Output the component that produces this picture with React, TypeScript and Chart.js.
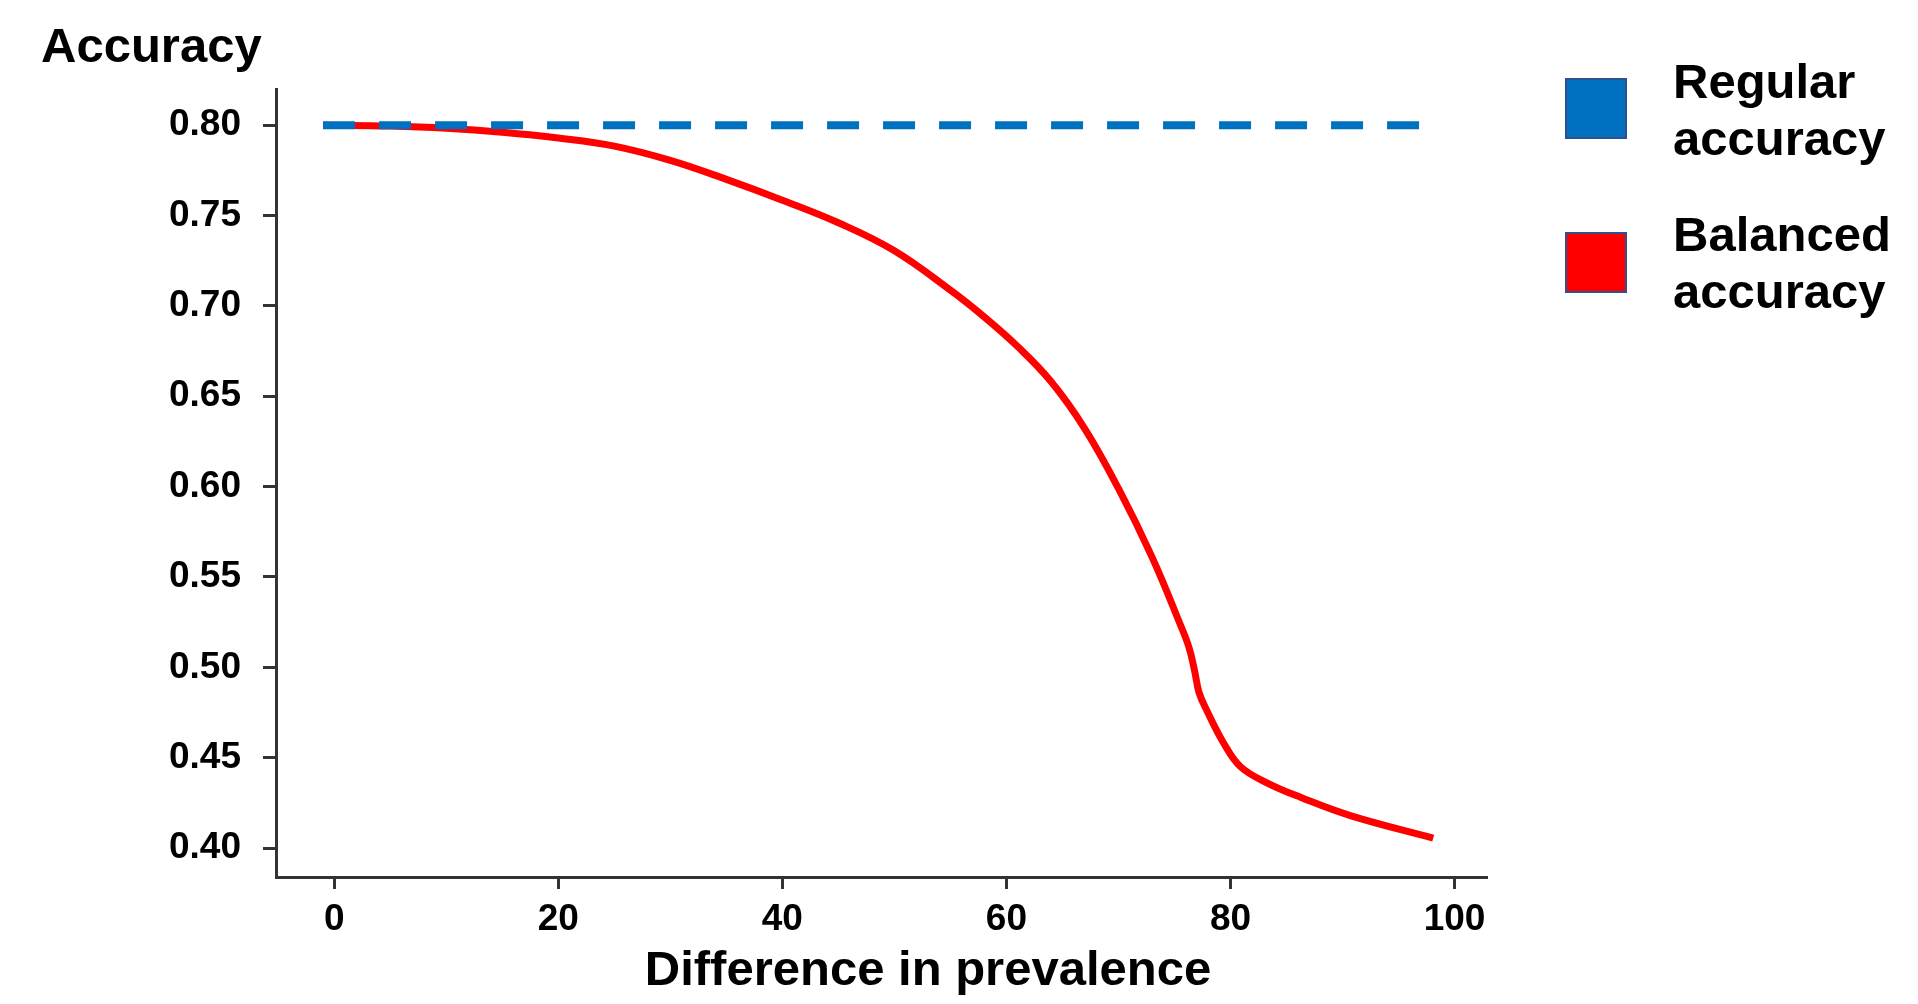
import React, { useEffect, useRef } from "react";
import { Chart, registerables } from "chart.js";

Chart.register(...registerables);

// ---- data ----
const xTickValues = [0, 20, 40, 60, 80, 100];
const yTickValues = [0.4, 0.45, 0.5, 0.55, 0.6, 0.65, 0.7, 0.75, 0.8];

const regularX = [-1, 97.5];
const regularY = [0.8, 0.8];

const balancedX = [-1, 5, 10, 15, 20, 25, 30, 35, 40, 45, 50, 55, 58, 61, 64, 67, 70, 73, 75.5, 76.3, 76.8, 77.2, 77.9, 79.4, 80.9, 83.3, 86.3, 90.7, 98.1];
const balancedY = [0.8, 0.7995, 0.7983, 0.7961, 0.7929, 0.7884, 0.7805, 0.77, 0.7585, 0.746, 0.7305, 0.7087, 0.694, 0.6775, 0.658, 0.632, 0.599, 0.561, 0.524, 0.511, 0.498, 0.486, 0.476, 0.458, 0.445, 0.436, 0.428, 0.418, 0.4055];

const seriesLabels = ["Regular accuracy", "Balanced accuracy"];
const seriesColors = ["#0070C0", "#FF0000"];
const yAxisTitle = "Accuracy";
const xAxisTitle = "Difference in prevalence";

const FONT = '"Liberation Sans", Arial, sans-serif';

const overlayPlugin = {
  id: "overlayTexts",
  afterDraw(chart: any) {
    const ctx = chart.ctx as CanvasRenderingContext2D;
    const area = chart.chartArea;
    ctx.save();
    ctx.fillStyle = "#000";
    ctx.textBaseline = "alphabetic";

    // y axis title (top-left)
    ctx.font = `bold 49px ${FONT}`;
    ctx.textAlign = "left";
    ctx.fillText(yAxisTitle, area.left - 235, 62);

    // x axis title
    ctx.font = `bold 49px ${FONT}`;
    ctx.textAlign = "center";
    ctx.fillText(xAxisTitle, area.left + 652, area.bottom + 108);

    // legend
    const ds = chart.data.datasets;
    ds.forEach((d: any, i: number) => {
      const sx = area.right + 79;
      const sy = 79 + i * 154;
      ctx.fillStyle = d.borderColor;
      ctx.fillRect(sx, sy, 60, 59);
      ctx.strokeStyle = "#2F528F";
      ctx.lineWidth = 2;
      ctx.strokeRect(sx, sy, 60, 59);
      ctx.fillStyle = "#000";
      ctx.font = `bold 49px ${FONT}`;
      ctx.textAlign = "left";
      const lines = String(d.label).split(" ");
      lines.forEach((ln: string, j: number) => {
        ctx.fillText(ln, area.right + 186, 98 + i * 153 + j * 57);
      });
    });
    ctx.restore();
  },
};

export default function App() {
  const canvasRef = useRef<HTMLCanvasElement | null>(null);

  useEffect(() => {
    document.body.style.margin = "0";
    const canvas = canvasRef.current;
    if (!canvas) return;

    const chart = new Chart(canvas, {
      type: "line",
      data: {
        datasets: [
          {
            label: seriesLabels[0],
            data: regularX.map((x, i) => ({ x, y: regularY[i] })),
            borderColor: seriesColors[0],
            backgroundColor: seriesColors[0],
            borderWidth: 8,
            borderDash: [32, 24],
            borderCapStyle: "butt",
            pointRadius: 0,
            fill: false,
          },
          {
            label: seriesLabels[1],
            data: balancedX.map((x, i) => ({ x, y: balancedY[i] })),
            borderColor: seriesColors[1],
            backgroundColor: seriesColors[1],
            borderWidth: 7,
            borderCapStyle: "butt",
            tension: 0.4,
            pointRadius: 0,
            fill: false,
          },
        ],
      },
      options: {
        responsive: false,
        animation: false,
        devicePixelRatio: 1,
        layout: { padding: { top: 89, right: 431, left: 0, bottom: 0 } },
        plugins: {
          legend: { display: false },
          tooltip: { enabled: false },
          title: { display: false },
        },
        scales: {
          x: {
            type: "linear",
            min: -5.2,
            max: 102.9,
            afterFit: (scale: any) => {
              scale.height = 127;
            },
            afterBuildTicks: (scale: any) => {
              scale.ticks = xTickValues.map((v) => ({ value: v }));
            },
            border: { display: true, color: "#333", width: 3 },
            grid: {
              display: true,
              drawOnChartArea: false,
              drawTicks: true,
              tickLength: 12,
              tickWidth: 3,
              color: "#333",
            },
            ticks: {
              color: "#000",
              padding: 9,
              maxRotation: 0,
              font: { family: FONT, size: 37, weight: "bold" },
              callback: (v: any) => String(v),
            },
          },
          y: {
            type: "linear",
            min: 0.384,
            max: 0.82,
            afterFit: (scale: any) => {
              scale.width = 276;
            },
            afterBuildTicks: (scale: any) => {
              scale.ticks = yTickValues.map((v) => ({ value: v }));
            },
            border: { display: true, color: "#333", width: 3 },
            grid: {
              display: true,
              drawOnChartArea: false,
              drawTicks: true,
              tickLength: 13,
              tickWidth: 3,
              color: "#333",
            },
            ticks: {
              color: "#000",
              padding: 22,
              font: { family: FONT, size: 37, weight: "bold" },
              callback: (v: any) => Number(v).toFixed(2),
            },
          },
        },
      },
      plugins: [overlayPlugin],
    } as any);

    return () => {
      chart.destroy();
    };
  }, []);

  return (
    <div style={{ position: "absolute", left: 0, top: 0, width: 1918, height: 1004, background: "#fff" }}>
      <canvas ref={canvasRef} width={1918} height={1004} style={{ width: 1918, height: 1004, display: "block" }} />
    </div>
  );
}
